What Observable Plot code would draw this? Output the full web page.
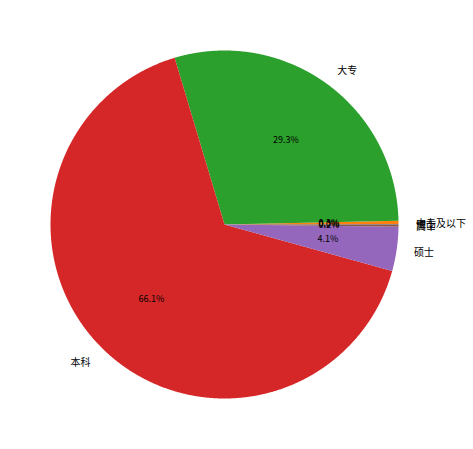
<!DOCTYPE html>
<html>
<head>
<meta charset="utf-8">
<script src="https://cdn.jsdelivr.net/npm/d3@7"></script>
<script src="https://cdn.jsdelivr.net/npm/@observablehq/plot@0.6"></script>
<style>
  html, body { margin: 0; padding: 0; background: #fff; }
  #chart svg { display: block; }
</style>
</head>
<body>
<div id="chart"></div>
<script>
const labels = ["博士", "中专及以下", "大专", "本科", "硕士", "高中"];
const values = [0.04, 0.3, 29.3, 66.1, 4.1, 0.2];
const colors = ["#1f77b4", "#ff7f0e", "#2ca02c", "#d62728", "#9467bd", "#8c564b"];

const total = d3.sum(values);
let acc = 0;
const slices = values.map((v, i) => {
  const a0 = acc / total * 2 * Math.PI;
  acc += v;
  const a1 = acc / total * 2 * Math.PI;
  const mid = (a0 + a1) / 2;
  return {label: labels[i], value: v, a0, a1, mid,
          pct: (v / total * 100).toFixed(1) + "%"};
});

const poly = [];
slices.forEach((s, i) => {
  poly.push({label: s.label, x: 0, y: 0});
  const n = Math.max(2, Math.ceil((s.a1 - s.a0) / 0.004));
  for (let j = 0; j <= n; j++) {
    const a = s.a0 + (s.a1 - s.a0) * j / n;
    poly.push({label: s.label, x: Math.cos(a), y: Math.sin(a)});
  }
  poly.push({label: s.label, x: 0, y: 0});
});

const font = "'Noto Sans CJK SC', 'DejaVu Sans', sans-serif";

const chart = Plot.plot({
  width: 473,
  height: 449,
  margin: 0,
  style: {background: "#fff", fontFamily: font},
  x: {domain: [-224 / 174, 249 / 174], axis: null},
  y: {domain: [-225 / 174, 224 / 174], axis: null},
  color: {domain: labels, range: colors},
  marks: [
    Plot.line(poly, {x: "x", y: "y", z: "label", fill: "label", stroke: "none", curve: "linear"}),
    Plot.text(slices.filter(d => Math.cos(d.mid) >= 0), {
      x: d => 1.1 * Math.cos(d.mid), y: d => 1.1 * Math.sin(d.mid),
      text: "label", textAnchor: "start", fontSize: 10, dy: 1.5, fill: "#000", fontFamily: font
    }),
    Plot.text(slices.filter(d => Math.cos(d.mid) < 0), {
      x: d => 1.1 * Math.cos(d.mid), y: d => 1.1 * Math.sin(d.mid),
      text: "label", textAnchor: "end", fontSize: 10, dy: 1.5, fill: "#000", fontFamily: font
    }),
    Plot.text(slices, {
      x: d => 0.6 * Math.cos(d.mid), y: d => 0.6 * Math.sin(d.mid),
      text: "pct", fontSize: 9, fill: "#000", fontFamily: font
    })
  ]
});
document.getElementById("chart").appendChild(chart);
</script>
</body>
</html>
